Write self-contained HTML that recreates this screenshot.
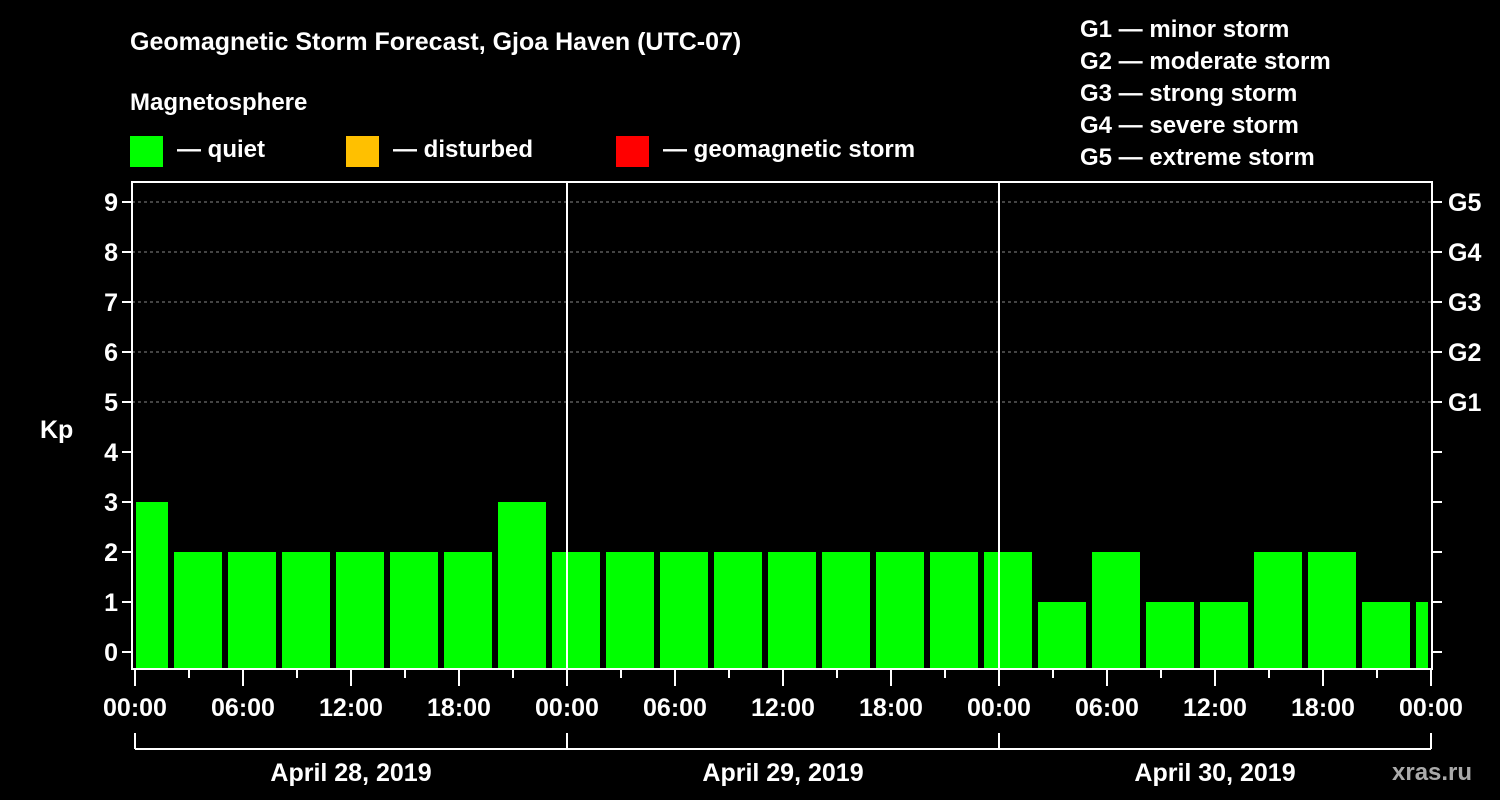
<!DOCTYPE html>
<html><head><meta charset="utf-8"><style>
body{margin:0;background:#000;}
svg{display:block;font-family:"Liberation Sans",sans-serif;font-weight:bold;fill:#fff;}
</style></head><body>
<svg id="chart" width="1500" height="800" viewBox="0 0 1500 800">
<text x="130" y="50" font-size="25">Geomagnetic Storm Forecast, Gjoa Haven (UTC-07)</text>
<text x="130" y="110" font-size="24">Magnetosphere</text>
<g><rect x="130" y="136" width="33" height="31" fill="#00ff00"/><text x="177" y="157" font-size="24">— quiet</text></g>
<g><rect x="346" y="136" width="33" height="31" fill="#ffc000"/><text x="393" y="157" font-size="24">— disturbed</text></g>
<g><rect x="616" y="136" width="33" height="31" fill="#ff0000"/><text x="663" y="157" font-size="24">— geomagnetic storm</text></g>
<g font-size="24">
<text x="1080" y="37">G1 — minor storm</text>
<text x="1080" y="69">G2 — moderate storm</text>
<text x="1080" y="101">G3 — strong storm</text>
<text x="1080" y="133">G4 — severe storm</text>
<text x="1080" y="165">G5 — extreme storm</text>
</g>
<text x="40" y="438" font-size="25">Kp</text>
<text x="1392" y="780" font-size="24" fill="#aaa" style="fill:#aaa">xras.ru</text>
<defs><clipPath id="pc"><rect x="136" y="182" width="1292" height="487"/></clipPath></defs>
<g id="grid"></g>
<g id="bars" clip-path="url(#pc)"></g>
<g id="axes"></g>
</svg>
<script>
const kpValues=[3,2,2,2,2,2,2,3, 2,2,2,2,2,2,2,2, 2,1,2,1,1,2,2,1, 1];
const dayLabels=["April 28, 2019","April 29, 2019","April 30, 2019"];
const yTicks=[0,1,2,3,4,5,6,7,8,9];
const gLabels=["G1","G2","G3","G4","G5"];
const xTickLabels=["00:00","06:00","12:00","18:00"];
const NS="http://www.w3.org/2000/svg";
const x0=135,hourPx=18,L=132,R=1432,T=182,B=669;
const xs=h=>x0+h*hourPx;
const ys=k=>652-50*k;
function mk(tag,attrs,parent){const e=document.createElementNS(NS,tag);for(const k in attrs)e.setAttribute(k,attrs[k]);parent.appendChild(e);return e;}
const grid=document.getElementById('grid'),bars=document.getElementById('bars'),axes=document.getElementById('axes');
// grid lines Kp 5-9
for(let k=5;k<=9;k++){const l=mk('line',{x1:L,x2:R,y1:ys(k),y2:ys(k),stroke:'#888','stroke-dasharray':'3,3','stroke-width':1},grid);

}
// bars
kpValues.forEach((v,i)=>{const cx=xs(i*3)+9;const y=ys(v);const r=mk('rect',{x:cx-24,y:y,width:48,height:668-y,fill:'#00ff00'},bars);

});
// day separators
for(let d=1;d<3;d++){const l=mk('line',{x1:xs(d*24),x2:xs(d*24),y1:T,y2:B,stroke:'#fff','stroke-width':2},axes);

}
// frame
const f=mk('rect',{x:L,y:T,width:R-L,height:B-T,fill:'none',stroke:'#fff','stroke-width':2},axes);


// y ticks
yTicks.forEach(k=>{const y=ys(k);
mk('line',{x1:L-10,x2:L,y1:y,y2:y,stroke:'#fff','stroke-width':2},axes);
mk('line',{x1:R,x2:R+10,y1:y,y2:y,stroke:'#fff','stroke-width':2},axes);
const t=mk('text',{x:L-14,y:y+9,'font-size':25,'text-anchor':'end'},axes);t.textContent=k;

});
gLabels.forEach((g,i)=>{const t=mk('text',{x:1448,y:ys(5+i)+9,'font-size':25},axes);t.textContent=g;

});
// x ticks
for(let h=0;h<=72;h+=3){const major=h%6===0;mk('line',{x1:xs(h),x2:xs(h),y1:B,y2:major?686:678,stroke:'#fff','stroke-width':2},axes);
if(major){const t=mk('text',{x:xs(h),y:716,'font-size':25,'text-anchor':'middle'},axes);t.textContent=xTickLabels[(h/6)%4];

}}
// day brackets
mk('line',{x1:xs(0),x2:xs(72),y1:749,y2:749,stroke:'#fff','stroke-width':2},axes);
for(let d=0;d<=3;d++)mk('line',{x1:xs(d*24),x2:xs(d*24),y1:733,y2:749,stroke:'#fff','stroke-width':2},axes);
dayLabels.forEach((s,d)=>{const t=mk('text',{x:xs(d*24+12),y:781,'font-size':25,'text-anchor':'middle'},axes);t.textContent=s;

});
</script>
</body></html>
